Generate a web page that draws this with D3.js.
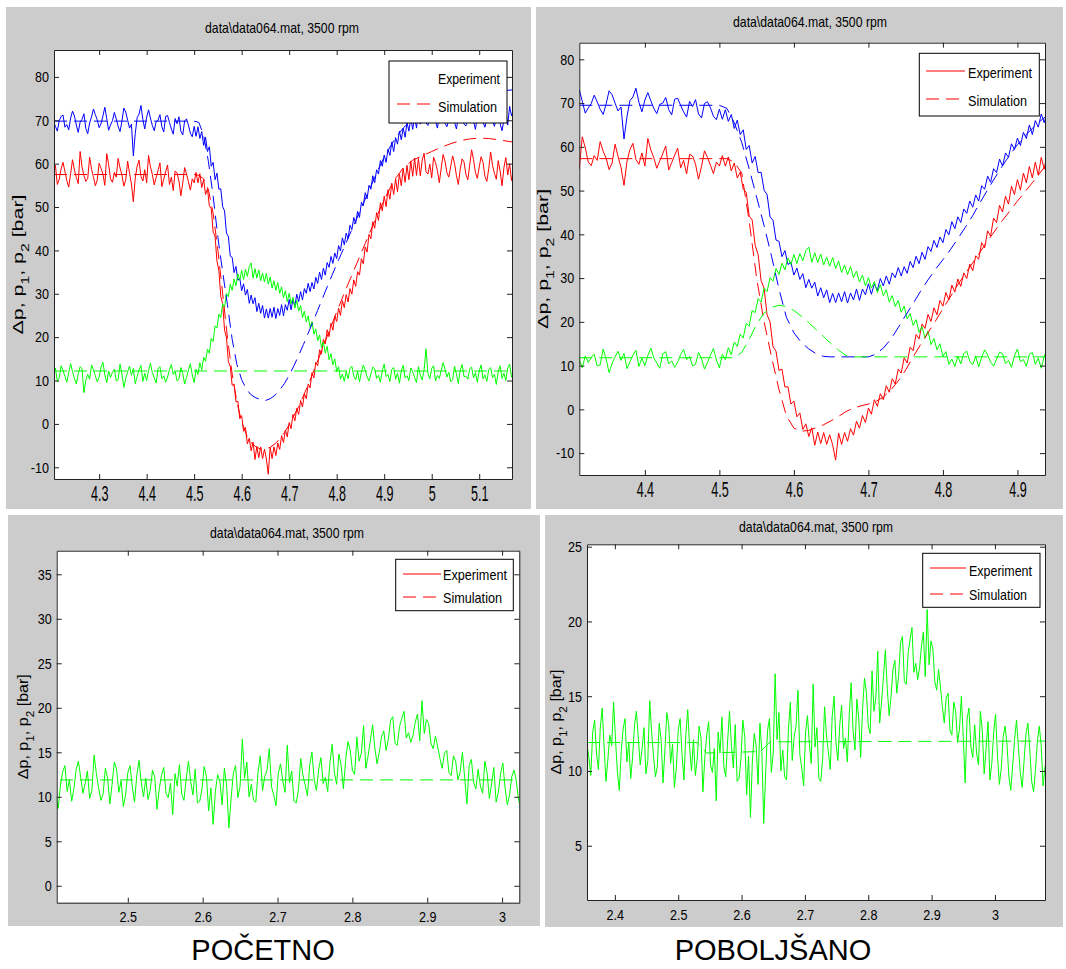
<!DOCTYPE html>
<html><head><meta charset="utf-8">
<script src="https://cdn.jsdelivr.net/npm/d3@7"></script>
<style>body{margin:0;background:#fff}</style>
</head><body><svg id="c" width="1066" height="969"></svg>
<script>
// ---------- DATA ----------
// top figures: measured signals sampled from t0 with step dt (s), values in bar
const topT0 = 4.204, topDt = 0.004;
const p1Exp = [69.8,68.6,67.5,69.9,70.9,71.2,68.4,69.0,67.8,70.5,72.1,71.0,68.9,67.2,69.6,70.2,71.5,68.1,66.9,69.4,70.8,72.6,71.3,70.1,68.3,69.2,71.0,73.0,70.4,67.7,68.9,69.9,71.8,70.3,68.6,67.4,69.8,72.8,71.9,70.0,68.2,69.1,61.8,66.9,70.6,71.4,73.4,70.2,68.0,70.7,72.4,70.5,68.8,67.6,69.7,70.0,71.3,68.5,67.3,70.9,71.1,69.5,68.0,66.8,70.4,69.2,70.8,67.5,66.6,69.9,70.3,68.9,67.0,66.2,
68.6,66.3,68.5,65.8,67.4,64.2,66.1,62.8,63.9,59.4,60.3,56.3,57.8,54.1,54.2,50.1,49.1,44.0,43.2,38.7,38.4,34.9,36.3,33.1,33.6,30.7,32.3,29.7,31.0,27.8,29.7,27.7,29.1,25.9,27.8,25.5,27.3,24.4,26.5,24.4,26.6,24.6,26.9,24.3,26.6,25.0,27.5,24.9,27.5,26.2,28.7,26.3,28.7,27.2,29.9,28.2,30.5,28.6,31.2,30.1,32.4,30.5,32.6,31.1,33.8,32.4,35.0,33.3,35.9,34.3,37.2,36.1,38.6,37.0,39.4,38.1,41.1,39.9,42.9,41.3,44.0,42.7,45.8,44.8,47.6,46.2,49.0,47.6,51.1,50.3,53.3,51.9,55.0,54.1,57.2,55.6,58.6,57.6,60.7,59.4,62.0,60.3,63.3,61.9,65.0,62.8,66.0,64.5,67.5,65.5,68.2,66.1,69.5,67.5,70.5,67.9,70.8,68.2,71.7,69.1,
71.9,72.3,69.4,68.8,70.6,73.1,71.4,69.7,68.2,70.9,72.5,71.0,69.3,68.5,70.2,72.8,71.7,69.6,68.0,70.7,73.0,71.3,69.1,68.7,70.4,72.2,71.5,69.9,67.9,70.8,72.6,71.1,69.5,68.4,70.3,72.9,71.6,69.8,68.6,70.5,72.4,69.2,67.6,70.1,71.8,68.9,73.2,71.0,72.7];
const p2Exp = [57.9,59.6,55.2,56.4,58.8,60.3,58.2,56.1,54.6,57.7,60.9,58.5,56.8,55.4,62.8,59.2,57.3,55.9,56.6,61.5,58.7,57.0,54.9,56.2,60.1,58.9,57.6,55.0,62.3,59.8,56.5,55.7,58.0,56.9,61.2,59.0,57.4,54.8,56.3,60.6,57.8,55.3,51.2,56.7,59.4,60.8,57.1,56.0,58.6,55.6,61.9,59.3,57.5,55.1,56.8,58.4,60.2,54.7,56.4,58.1,59.7,55.2,56.9,53.8,58.3,57.9,56.0,52.6,55.5,59.1,57.6,55.8,53.9,56.5,
55.6,58.0,55.6,57.7,54.5,56.3,52.9,54.2,50.3,49.6,44.2,43.3,37.5,35.4,29.4,27.7,21.6,20.0,14.3,13.3,8.9,9.2,5.1,5.2,1.2,1.9,-1.7,-0.8,-4.6,-3.3,-6.2,-4.2,-8.2,-5.2,-7.8,-5.3,-8.0,-5.8,-8.1,-11.6,-5.4,-8.0,-5.3,-7.3,-4.4,-5.9,-2.7,-4.3,-1.4,-3.0,0.3,-1.1,2.2,0.7,3.6,2.2,5.4,3.9,7.0,5.8,9.2,8.3,11.8,10.6,14.2,13.4,17.1,16.1,19.5,18.5,21.7,20.1,23.2,21.6,24.9,23.6,26.7,25.0,28.4,26.8,29.8,28.1,31.2,29.9,33.2,31.7,35.1,34.3,38.1,36.9,40.8,39.6,43.7,42.7,46.6,45.1,48.7,46.9,51.0,49.1,52.5,50.1,54.0,51.8,55.5,52.9,56.5,53.5,57.6,54.9,58.9,55.7,59.6,56.3,60.6,57.1,61.3,57.3,61.2,57.2,
60.8,62.4,58.1,57.6,59.9,56.7,61.5,60.2,58.4,55.6,59.0,62.1,60.6,57.9,56.9,59.4,61.8,60.1,57.3,55.2,58.7,61.1,60.4,57.5,56.3,59.7,63.2,60.9,58.0,56.6,59.2,61.6,60.3,57.1,55.9,58.8,62.7,59.6,57.8,56.4,60.7,58.3,54.9,59.1,61.4,57.4,60.0,56.1,58.6];
const dpExp = [11.2,12.9,9.8,10.6,13.4,12.3,11.0,9.6,11.8,13.9,12.1,10.4,9.2,11.6,13.2,12.7,7.2,10.1,11.4,10.3,13.6,12.5,11.1,9.7,10.8,13.1,14.2,11.3,9.5,12.2,10.7,11.9,12.6,9.9,10.2,13.8,11.5,8.4,10.5,12.0,13.3,11.2,12.8,9.3,10.9,12.4,13.5,9.8,11.7,10.0,12.3,14.0,11.8,10.6,9.4,12.7,13.2,10.4,11.1,9.6,10.8,12.5,13.7,11.4,12.1,9.9,10.3,13.0,11.6,9.2,10.7,12.4,13.9,11.3,9.5,12.6,
11.4,14.1,12.5,15.4,14.4,17.2,16.3,19.7,19.0,22.6,22.1,25.3,24.5,27.7,26.9,30.1,29.3,32.2,30.8,33.4,31.9,34.6,33.1,35.4,33.3,35.6,34.0,36.3,37.1,33.6,35.8,33.6,35.5,33.0,34.8,32.7,34.7,32.2,33.9,31.3,33.0,30.8,32.6,30.1,31.6,29.1,30.7,28.2,30.1,27.7,29.2,26.7,28.5,26.0,27.3,24.5,26.0,23.5,24.9,22.2,23.6,20.7,21.9,19.2,20.5,17.6,18.9,16.3,17.9,14.8,16.2,13.6,15.0,12.1,13.2,10.3,11.5,9.8,12.1,
10.4,12.8,13.3,11.0,10.2,12.1,9.7,11.9,13.6,12.4,10.8,9.9,11.5,13.1,12.7,10.5,11.2,9.6,12.3,13.8,10.9,11.4,9.8,12.6,13.0,10.3,11.7,9.4,12.2,13.5,10.6,11.1,10.0,12.9,12.0,10.7,9.5,13.2,11.3,10.1,12.5,17.3,11.6,10.4,12.8,13.4,9.9,11.2,10.5,12.3,14.1,12.6,10.8,11.9,9.7,10.2,13.3,11.5,9.3,12.4,13.7,10.9,11.0,10.3,12.7,13.1,10.6,11.8,9.6,12.2,13.6,10.4,11.3,9.8,12.5,13.0,10.7,11.4,9.1,12.1,13.4,10.5,11.7,10.0,12.9,13.8,10.8,10.9];

// simulations, top-left (initial model)
const simAT = [4.205,4.50,4.51,4.52,4.53,4.54,4.55,4.56,4.57,4.58,4.59,4.60,4.61,4.62,4.63,4.64,4.65,4.66,4.67,4.68,4.69,4.70,4.71,4.72,4.73,4.74,4.75,4.76,4.77,4.78,4.79,4.80,4.81,4.82,4.83,4.84,4.85,4.86,4.87,4.88,4.89,4.90,4.92,4.94,4.96,4.98,5.00,5.04,5.08,5.12,5.17];
const simAp1 = [69.8,69.8,69.5,66.5,60.5,52.5,43,35,27.5,19.5,13.7,10.2,8,6.7,6,5.6,5.4,5.8,6.6,7.8,9.3,11.2,13.4,15.8,18.3,20.9,23.5,26.2,28.9,31.6,34.2,36.8,39.3,41.8,44.3,46.8,49.3,51.8,54.3,56.8,59.2,61.5,65.3,68.2,70.3,71.8,72.9,74.6,75.8,76.5,77];
const simAT2 = [4.205,4.50,4.51,4.52,4.53,4.54,4.55,4.56,4.57,4.58,4.59,4.60,4.61,4.62,4.63,4.64,4.65,4.66,4.67,4.68,4.69,4.70,4.72,4.74,4.76,4.78,4.80,4.82,4.84,4.86,4.88,4.90,4.92,4.94,4.96,4.98,5.00,5.02,5.04,5.06,5.08,5.10,5.12,5.14,5.17];
const simAp2 = [57.5,57.5,57.3,56.5,54,48.5,40,30,20,11.5,5,0.5,-2.5,-4.3,-5.3,-5.8,-5.8,-5.4,-4.6,-3.5,-2,-0.2,4,9,14.5,20.2,25.8,31.2,36.4,41.6,46.8,51.7,56,59,60.8,61.8,62.8,63.8,64.6,65.3,65.7,65.9,65.8,65.5,65];
const simAdpT = [4.205,5.17];
const simAdp = [12.2,12.2];

// simulations, top-right (improved model)
const simBT1 = [4.312,4.50,4.51,4.52,4.53,4.54,4.55,4.56,4.57,4.58,4.59,4.60,4.61,4.62,4.63,4.64,4.65,4.70,4.71,4.72,4.73,4.74,4.75,4.76,4.77,4.78,4.79,4.80,4.81,4.82,4.83,4.84,4.85,4.86,4.87,4.88,4.89,4.90,4.91,4.92,4.93,4.94];
const simBp1 = [69.5,69.5,68.8,65.5,61,55,48.5,42,35,27.5,21,17.5,15.3,13.8,12.7,12.1,12,12,12.6,14,16,18.7,21.5,24.2,27,29.6,32,34.2,36.5,39,41.6,44.3,47.3,50.2,53,55.7,58.2,60.5,62.5,64.2,65.8,67.2];
const simBT2 = [4.312,4.51,4.52,4.53,4.54,4.55,4.56,4.57,4.58,4.59,4.60,4.61,4.62,4.63,4.64,4.65,4.66,4.67,4.68,4.69,4.70,4.71,4.72,4.73,4.74,4.75,4.76,4.77,4.78,4.79,4.80,4.82,4.84,4.86,4.88,4.90,4.92,4.937];
const simBp2 = [57.3,57.3,56.5,54,43,30,20,12,4.5,-1.5,-4.3,-5,-4.8,-4.2,-3.5,-2.6,-1.6,-0.5,0.3,0.8,1.2,1.8,2.8,4.4,6.5,9,12,14.8,17.5,20.2,23,28.5,33.5,38.5,43.2,47.6,51.8,55.5];
const simBdpT = [4.312,4.52,4.53,4.54,4.55,4.56,4.57,4.58,4.59,4.60,4.61,4.62,4.63,4.64,4.65,4.66,4.67,4.68,4.937];
const simBdp = [11.8,11.8,13,16,19.5,22,23.3,23.8,23.5,22.6,21.3,19.8,18.2,16.6,15,13.5,12.3,12,12];

// bottom figures: measured differential pressure
const botT0 = 2.356, botDt = 0.003;
const dpExpBot = [11.8,10.9,9.7,12.6,13.4,11.2,10.1,12.9,14.2,11.6,9.3,10.8,12.4,11.7,14.6,12.1,9.9,8.7,11.3,12.8,13.5,10.6,11.9,9.5,10.9,13.1,14.0,12.2,10.4,11.5,12.9,9.8,10.7,14.7,12.6,11.0,9.6,10.3,13.2,12.1,9.2,11.4,13.9,13.1,10.5,11.8,8.9,10.2,12.7,13.5,11.1,9.4,12.4,14.1,11.6,10.0,12.1,9.7,10.8,13.0,12.2,8.6,10.9,12.4,13.3,10.4,9.9,11.5,8.0,12.6,11.2,13.6,10.3,9.6,12.0,14.0,11.7,10.2,13.1,9.3,
9.5,10.8,13.4,12.3,8.4,11.0,6.9,10.6,12.5,11.7,9.1,13.2,11.3,6.5,9.8,12.7,13.5,9.9,11.2,16.5,12.1,13.9,10.0,11.4,9.6,9.4,12.8,14.6,10.7,12.3,13.0,15.4,11.1,10.2,9.0,12.6,13.7,11.8,10.5,15.8,11.6,12.9,9.5,9.3,10.8,14.3,12.4,11.3,10.1,13.6,15.0,11.9,10.7,13.1,14.4,11.5,12.2,10.6,13.8,15.9,12.7,11.4,14.8,13.5,10.9,14.1,16.2,15.3,13.0,12.5,
16.7,14.0,14.9,18.0,13.2,14.6,16.3,18.1,15.5,13.7,15.0,16.8,17.4,15.2,16.4,18.6,19.0,16.0,15.8,17.9,18.8,19.6,16.6,17.2,16.1,16.9,18.4,19.3,16.3,20.8,17.1,18.7,18.2,16.0,15.4,16.8,15.6,14.3,13.2,14.9,15.2,12.7,12.4,14.6,14.0,11.9,12.8,15.0,12.2,9.2,
13.5,14.2,11.6,10.9,13.1,11.2,10.4,14.0,12.7,9.8,11.5,13.3,9.4,10.5,12.6,13.8,11.0,9.1,10.2,12.3,13.0,11.8,9.6,8.7,10.4,12.1,13.4,11.6,9.9,8.9,10.7,12.5,13.2,11.4,9.3,8.6,10.1,12.0,13.0,11.7,9.0,10.3];
const simCT = [2.356,3.079];
const simCdp = [11.9,11.9];
const simDT = [2.356,2.53,2.545,2.63,2.645,3.079];
const simDdp = [11.9,11.9,11.2,11.3,11.95,12.0];

// tick values
const xTicksA = [4.3,4.4,4.5,4.6,4.7,4.8,4.9,5,5.1];
const xTicksB = [4.4,4.5,4.6,4.7,4.8,4.9];
const yTicksTop = [-10,0,10,20,30,40,50,60,70,80];
const xTicksC = [2.5,2.6,2.7,2.8,2.9,3];
const yTicksC = [0,5,10,15,20,25,30,35];
const xTicksD = [2.4,2.5,2.6,2.7,2.8,2.9,3];
const yTicksD = [5,10,15,20,25];

const titleText = "data\\data064.mat, 3500 rpm";
const legendLabels = ["Experiment","Simulation"];
const captions = ["POČETNO","POBOLJŠANO"];

// ---------- DRAWING ----------
const FONT = '"Liberation Sans",Arial,sans-serif';
const BLUE="#0000ff", RED="#ff0000", GREEN="#00ff00";
const sampled = (t0, dt, v) => v.map((d,i)=>[t0+i*dt, d]);
const paired = (T, V) => T.map((t,i)=>[t, V[i]]);
const SX = 0.84; // horizontal compression of the narrow plot font

const panels = [
 {bg:[6,7,531,509], l:54, t:50, r:512, b:479, xd:[4.205,5.169], yd:[-12.7,86.2], xticks:xTicksA, yticks:yTicksTop,
  xstretch:1.5, xpad:4, title:[282,33], ylab:[17.5,264.5,140],
  series:[
   {d:sampled(topT0,topDt,p1Exp), c:BLUE}, {d:sampled(topT0,topDt,p2Exp), c:RED}, {d:sampled(topT0,topDt,dpExp), c:GREEN},
   {d:paired(simAT,simAp1), c:BLUE, dash:true}, {d:paired(simAT2,simAp2), c:RED, dash:true}, {d:paired(simAdpT,simAdp), c:GREEN, dash:true}],
  legend:{box:[389,61,507,123], tx:438, tl:[62,59], rows:[{y:84, ly:76, line:false},{y:112, ly:104, line:true}], lx:[397,435]}},
 {bg:[536,7,1063,509], l:579.3, t:42.7, r:1045, b:475, xd:[4.312,4.937], yd:[-15,83.8], xticks:xTicksB, yticks:yTicksTop,
  xstretch:1.5, xpad:4, title:[810,27], ylab:[543,258.9,140],
  series:[
   {d:sampled(topT0,topDt,p1Exp), c:BLUE}, {d:sampled(topT0,topDt,p2Exp), c:RED}, {d:sampled(topT0,topDt,dpExp), c:GREEN},
   {d:paired(simBT1,simBp1), c:BLUE, dash:true}, {d:paired(simBT2,simBp2), c:RED, dash:true}, {d:paired(simBdpT,simBdp), c:GREEN, dash:true}],
  legend:{box:[919.3,53.3,1039.3,116], tx:968, tl:[64,59], rows:[{y:78, ly:71, line:true, solid:true},{y:106, ly:99, line:true}], lx:[926,965]}},
 {bg:[8,515,540,926], l:56.7, t:550.7, r:519.3, b:902.7, xd:[2.405,3.023], yd:[-1.9,37.65], xticks:xTicksC, yticks:yTicksC,
  xstretch:1, xpad:9, title:[287,538], ylab:[22.5,726.7,105],
  series:[{d:sampled(botT0,botDt,dpExpBot), c:GREEN}, {d:paired(simCT,simCdp), c:GREEN, dash:true}],
  legend:{box:[395.7,559.3,513.3,610.7], tx:443, tl:[64,59], rows:[{y:580, ly:574, line:true, solid:true},{y:603, ly:597, line:true}], lx:[403,441]}},
 {bg:[545,515,1063,927], l:587, t:544.3, r:1045, b:900, xd:[2.356,3.079], yd:[1.37,25.16], xticks:xTicksD, yticks:yTicksD,
  xstretch:1, xpad:9, title:[816,532], ylab:[556,722,105],
  series:[{d:sampled(botT0,botDt,dpExpBot), c:GREEN}, {d:paired(simDT,simDdp), c:GREEN, dash:true}],
  legend:{box:[922.7,553.3,1040,607.3], tx:969, tl:[63,58], rows:[{y:576, ly:568, line:true, solid:true},{y:600, ly:594, line:true}], lx:[930,966]}}
];

const svg = d3.select("#c");
const fmt = d => String(d);

panels.forEach((p, pi) => {
  const g = svg.append("g");
  g.append("rect").attr("x",p.bg[0]).attr("y",p.bg[1]).attr("width",p.bg[2]-p.bg[0]).attr("height",p.bg[3]-p.bg[1]).attr("fill","#cccccc");
  const x = d3.scaleLinear().domain(p.xd).range([p.l,p.r]);
  const y = d3.scaleLinear().domain(p.yd).range([p.b,p.t]);
  g.append("rect").attr("x",p.l).attr("y",p.t).attr("width",p.r-p.l).attr("height",p.b-p.t).attr("fill","#fff");
  const cid = "clip"+pi;
  g.append("clipPath").attr("id",cid).append("rect").attr("x",p.l).attr("y",p.t).attr("width",p.r-p.l).attr("height",p.b-p.t);
  const lg = g.append("g").attr("clip-path",`url(#${cid})`);
  const line = d3.line().x(d=>x(d[0])).y(d=>y(d[1]));
  p.series.forEach(s => {
    lg.append("path").attr("d", line(s.d)).attr("fill","none").attr("stroke", s.c)
      .attr("stroke-width", 1).attr("stroke-dasharray", s.dash ? "13,7" : null)
      .attr("stroke-linejoin","round");
  });
  // axes (box with inward ticks)
  const style = sel => { sel.attr("font-family",FONT).attr("font-size",15);
    sel.selectAll(".domain").attr("stroke","#222"); sel.selectAll(".tick line").attr("stroke","#222");
    sel.selectAll("text").attr("fill","#000"); };
  const gx = g.append("g").attr("transform",`translate(0,${p.b})`)
    .call(d3.axisBottom(x).tickValues(p.xticks).tickSize(-5).tickSizeOuter(0).tickPadding(p.xpad).tickFormat(fmt)).call(style);
  gx.selectAll("text").attr("transform",`scale(${SX},${p.xstretch})`);
  g.append("g").attr("transform",`translate(0,${p.t})`)
    .call(d3.axisTop(x).tickValues(p.xticks).tickSize(-5).tickSizeOuter(0).tickFormat("")).call(style);
  const gy = g.append("g").attr("transform",`translate(${p.l},0)`)
    .call(d3.axisLeft(y).tickValues(p.yticks).tickSize(-5).tickSizeOuter(0).tickPadding(5/SX).tickFormat(fmt)).call(style);
  gy.selectAll("text").attr("transform",`scale(${SX},1)`);
  g.append("g").attr("transform",`translate(${p.r},0)`)
    .call(d3.axisRight(y).tickValues(p.yticks).tickSize(-5).tickSizeOuter(0).tickFormat("")).call(style);
  // title
  g.append("text").attr("x",p.title[0]).attr("y",p.title[1]).attr("text-anchor","middle")
    .attr("font-family",FONT).attr("font-size",15).attr("fill","#000")
    .attr("textLength",154).attr("lengthAdjust","spacingAndGlyphs").text(titleText);
  // y label
  const yl = g.append("text").attr("transform",`translate(${p.ylab[0]+5},${p.ylab[1]}) rotate(-90)`)
    .attr("text-anchor","middle").attr("font-family",FONT).attr("font-size",15).attr("fill","#000")
    .attr("textLength",p.ylab[2]).attr("lengthAdjust","spacingAndGlyphs");
  yl.append("tspan").text("Δp,  p");
  yl.append("tspan").attr("baseline-shift","sub").attr("font-size",11).text("1");
  yl.append("tspan").text(",  p");
  yl.append("tspan").attr("baseline-shift","sub").attr("font-size",11).text("2");
  yl.append("tspan").text("  [bar]");
  // legend
  const L = p.legend;
  g.append("rect").attr("x",L.box[0]).attr("y",L.box[1]).attr("width",L.box[2]-L.box[0]).attr("height",L.box[3]-L.box[1])
    .attr("fill","#fff").attr("stroke","#000").attr("stroke-width",1);
  L.rows.forEach((r,ri) => {
    if (r.line) g.append("line").attr("x1",L.lx[0]).attr("x2",L.lx[1]).attr("y1",r.ly).attr("y2",r.ly)
      .attr("stroke",RED).attr("stroke-width",1.2).attr("stroke-dasharray", r.solid ? null : "13,7");
    g.append("text").attr("x",L.tx).attr("y",r.y).attr("font-family",FONT).attr("font-size",15).attr("fill","#000")
      .attr("textLength",L.tl[ri]).attr("lengthAdjust","spacingAndGlyphs").text(legendLabels[ri]);
  });
});

// captions
svg.append("text").attr("x",263).attr("y",960).attr("text-anchor","middle").attr("font-family",FONT)
  .attr("font-size",29).attr("fill","#000").text(captions[0]);
svg.append("text").attr("x",773).attr("y",960).attr("text-anchor","middle").attr("font-family",FONT)
  .attr("font-size",29).attr("fill","#000").text(captions[1]);
</script>
</body></html>
